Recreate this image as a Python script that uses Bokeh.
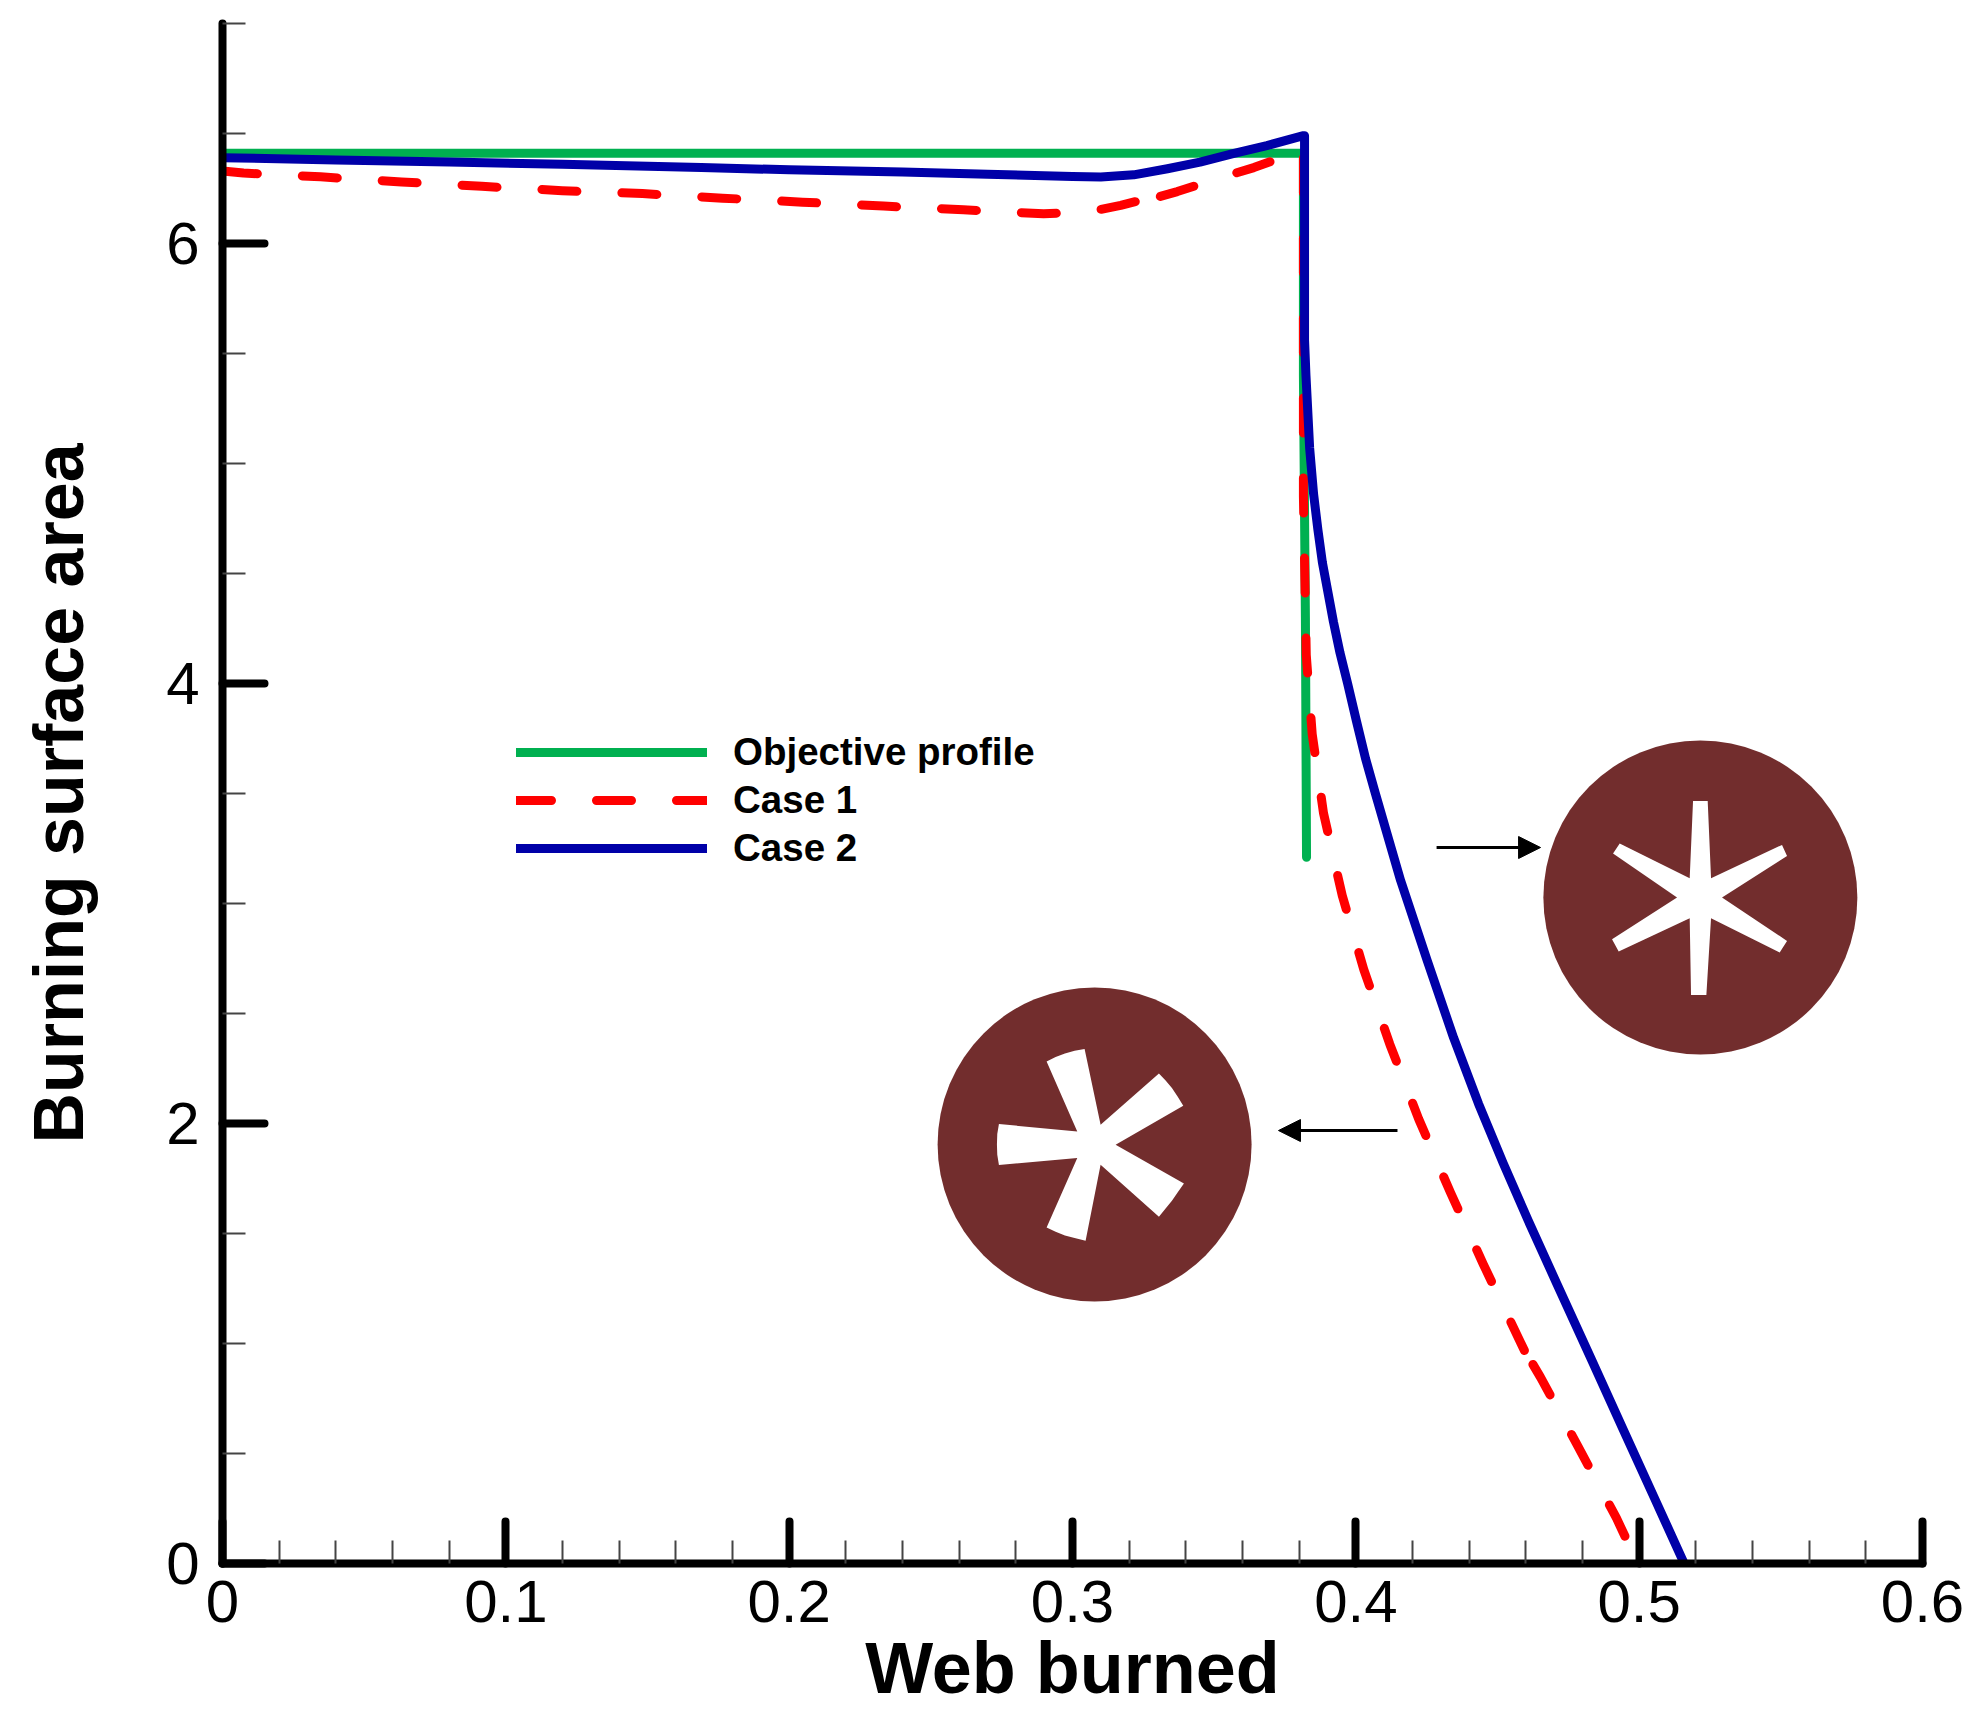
from bokeh.embed import file_html
from bokeh.models import Arrow, FixedTicker, Legend, LegendItem, NormalHead
from bokeh.plotting import figure
from bokeh.resources import INLINE

# ---- chart values ----
x_objective = [0, 0.3815, 0.3815, 0.3822, 0.3826]
y_objective = [6.41, 6.41, 5.4, 4.3, 3.21]

x_case1 = [0, 0.0074, 0.0346, 0.0632, 0.0915, 0.1199, 0.1482, 0.1765, 0.2047, 0.2333, 0.2615,
           0.2898, 0.30, 0.308, 0.317, 0.3237,
           0.331, 0.337, 0.35, 0.364, 0.371, 0.3815, 0.3815, 0.3815, 0.3825, 0.3846,
           0.3886, 0.3952, 0.4028, 0.412, 0.4222, 0.4334, 0.445, 0.4595,
           0.4625, 0.4652, 0.4785, 0.492, 0.4952, 0.50]
y_case1 = [6.33, 6.32, 6.303, 6.28, 6.26, 6.24, 6.227, 6.206, 6.188, 6.17, 6.153,
           6.135, 6.14, 6.15, 6.173, 6.195,
           6.214, 6.236, 6.29, 6.345, 6.377, 6.43, 5.2, 4.85, 4.13, 3.77,
           3.41, 3.036, 2.70, 2.36, 2.02, 1.686, 1.36, 0.968,
           0.905, 0.846, 0.53, 0.206, 0.118, 0]
case1_breaks = [16, 34]   # the dash pattern restarts at these points in the original curve

x_case2 = [0, 0.04, 0.08, 0.12, 0.169, 0.2, 0.24, 0.27, 0.30, 0.31, 0.3216, 0.3335, 0.345, 0.357,
           0.3686, 0.3815, 0.3819, 0.3819, 0.3824, 0.3837, 0.3851, 0.3866, 0.3882, 0.3921, 0.3944,
           0.3971, 0.4002, 0.4034, 0.4069, 0.4105, 0.4158, 0.4252, 0.4345, 0.4433, 0.452, 0.4608,
           0.471, 0.4833, 0.4945, 0.5053, 0.5159]
y_case2 = [6.39, 6.38, 6.37, 6.36, 6.345, 6.335, 6.325, 6.315, 6.304, 6.302, 6.312, 6.34, 6.37, 6.41,
           6.445, 6.49, 6.49, 5.56, 5.40, 5.07, 4.86, 4.7, 4.55, 4.28, 4.14,
           4.0, 3.83, 3.66, 3.5, 3.34, 3.105, 2.74, 2.39, 2.09, 1.82, 1.56,
           1.27, 0.923, 0.605, 0.30, 0]

x_major = [0, 0.1, 0.2, 0.3, 0.4, 0.5, 0.6]
x_minor = [0.02, 0.04, 0.06, 0.08, 0.12, 0.14, 0.16, 0.18, 0.22, 0.24, 0.26, 0.28, 0.32, 0.34,
           0.36, 0.38, 0.42, 0.44, 0.46, 0.48, 0.52, 0.54, 0.56, 0.58]
x_tick_labels = ["0", "0.1", "0.2", "0.3", "0.4", "0.5", "0.6"]
y_major = [0, 2, 4, 6]
y_minor = [0.5, 1, 1.5, 2.5, 3, 3.5, 4.5, 5, 5.5, 6.5, 7]
y_tick_labels = ["0", "2", "4", "6"]

labels = ["Objective profile", "Case 1", "Case 2"]
x_title = "Web burned"
y_title = "Burning surface area"

# grain cross-section insets: centres in data units, outlines as offsets from the centre
inset_centres_x = [0.5216, 0.3078]
inset_centres_y = [3.027, 1.905]
star_six_dx = [-22, 22, 32, 245, 260, 65, 260, 238, 32, 18, -28, -32, -245, -265, -70, -262, -242, -32]
star_six_dy = [290, 290, 58, 158, 125, 0, -130, -165, -62, -292, -292, -62, -162, -125, 0, 132, 162, 58]
star_five_dx = [-52, -144, -117, -89, -60, -30, 18, 193, 213, 232, 249, 266, 63, 268, 249, 232, 213, 193,
                18, -27, -60, -89, -117, -144, -52, -287, -292, -293, -292, -287, -52]
star_five_dy = [39, 249, 262, 273, 281, 286, 59, 213, 192, 169, 144, 116, -1, -117, -144, -169, -192, -217,
                -61, -289, -281, -273, -262, -249, -41, -62, -31, 0, 31, 61, 39]

arrow_right_x = [0.4285, 0.4652]
arrow_right_y = [3.2545, 3.2545]
arrow_left_x = [0.4147, 0.3727]
arrow_left_y = [1.968, 1.968]

# ---- layout ----
FRAME_W, FRAME_H = 1700, 1540
PX_X = FRAME_W / 0.6
PX_Y = FRAME_H / 7.0
ZOOM = 3.0
FONT = "Liberation Sans"

p = figure(width=1968, height=1718, output_backend="svg", toolbar_location=None,
           x_range=(0, 0.6), y_range=(0, 7),
           min_border_left=222, min_border_right=46, min_border_top=23, min_border_bottom=155,
           background_fill_color="white", border_fill_color="white")
p.grid.visible = False
p.outline_line_color = None

for ax, major, minor, tick_labels, title in (
    (p.xaxis[0], x_major, x_minor, x_tick_labels, x_title),
    (p.yaxis[0], y_major, y_minor, y_tick_labels, y_title),
):
    ax.ticker = FixedTicker(ticks=major, minor_ticks=minor)
    ax.major_label_overrides = dict(zip(major, tick_labels))
    ax.axis_line_color = "black"
    ax.axis_line_width = 8
    ax.axis_line_cap = "round"
    ax.major_tick_in = 42
    ax.major_tick_out = 0
    ax.major_tick_line_color = "black"
    ax.major_tick_line_width = 8
    ax.major_tick_line_cap = "round"
    ax.minor_tick_in = 23
    ax.minor_tick_out = 0
    ax.minor_tick_line_color = "#444444"
    ax.minor_tick_line_width = 2
    ax.major_label_text_font = FONT
    ax.major_label_text_font_size = "60px"
    ax.major_label_text_color = "black"
    ax.axis_label = title
    ax.axis_label_text_font = FONT
    ax.axis_label_text_font_style = "bold"
    ax.axis_label_text_color = "black"

p.xaxis[0].axis_label_text_font_size = "72px"
p.yaxis[0].axis_label_text_font_size = "70px"
p.xaxis[0].major_label_standoff = 17
p.yaxis[0].major_label_standoff = 23
p.xaxis[0].axis_label_standoff = 3
p.yaxis[0].axis_label_standoff = 65

# insets
p.scatter(inset_centres_x, inset_centres_y, size=314, marker="circle",
          fill_color="#722d2d", line_color=None)
for cx, cy, dx, dy in ((inset_centres_x[0], inset_centres_y[0], star_six_dx, star_six_dy),
                       (inset_centres_x[1], inset_centres_y[1], star_five_dx, star_five_dy)):
    p.patch([cx + v / ZOOM / PX_X for v in dx], [cy + v / ZOOM / PX_Y for v in dy],
            fill_color="white", line_color=None)

for ax_, ay_ in ((arrow_right_x, arrow_right_y), (arrow_left_x, arrow_left_y)):
    p.add_layout(Arrow(end=NormalHead(size=22, fill_color="black", line_color="black", line_width=1),
                       x_start=ax_[0], y_start=ay_[0], x_end=ax_[1], y_end=ay_[1],
                       line_color="black", line_width=3))

# curves
r0 = p.line(x_objective, y_objective, line_color="#00B050", line_width=9,
            line_cap="round", line_join="round")
case1_renderers = []
for start, stop in zip([0] + case1_breaks, case1_breaks + [len(x_case1)]):
    case1_renderers.append(
        p.line(x_case1[start:stop], y_case1[start:stop], line_color="#FF0000", line_width=9,
               line_dash=[35, 45], line_cap="round", line_join="round"))
r2 = p.line(x_case2, y_case2, line_color="#0000A8", line_width=9,
            line_cap="round", line_join="round")

legend = Legend(
    items=[LegendItem(label=labels[0], renderers=[r0]),
           LegendItem(label=labels[1], renderers=[case1_renderers[0]]),
           LegendItem(label=labels[2], renderers=[r2])],
    location=(294, 691), orientation="vertical",
    background_fill_alpha=0, border_line_color=None,
    margin=0, padding=0, spacing=0,
    glyph_width=191, glyph_height=48, label_height=48, label_standoff=26,
    label_text_font=FONT, label_text_font_style="bold", label_text_font_size="38.5px",
    label_text_color="black",
)
p.add_layout(legend)

open("out.html", "w").write(file_html(p, INLINE))
